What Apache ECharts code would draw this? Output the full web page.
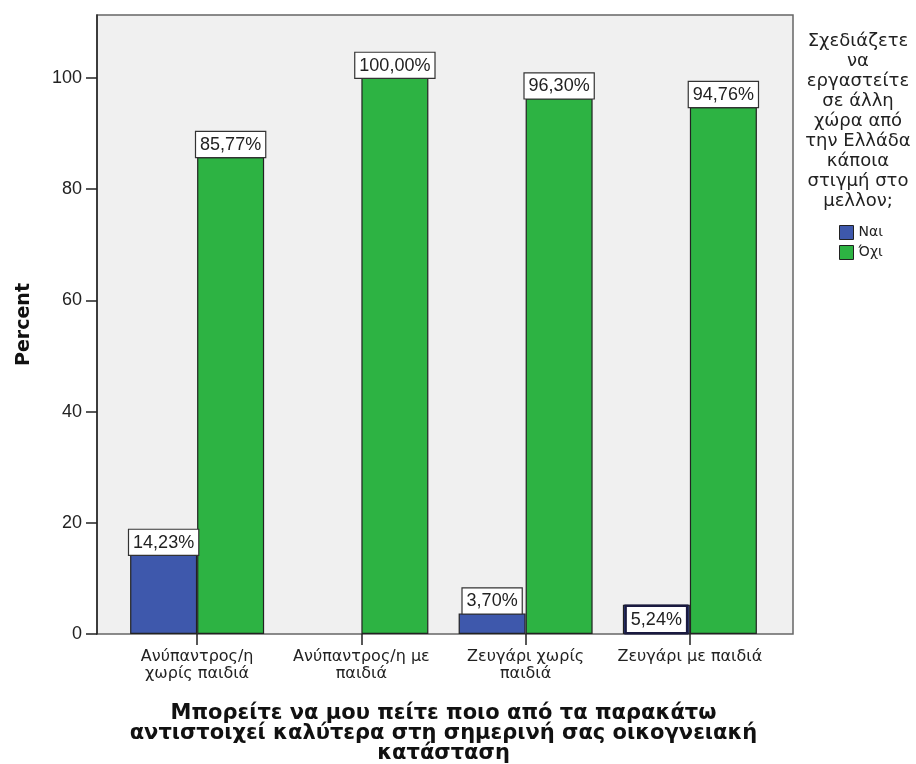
<!DOCTYPE html>
<html><head><meta charset="utf-8">
<script src="https://cdn.jsdelivr.net/npm/echarts@6/dist/echarts.min.js"></script>
<style>html,body{margin:0;padding:0;background:#fff}#c{width:916px;height:764px}</style>
</head><body><div id="c"></div>
<script>
var categories = ['Ανύπαντρος/η\nχωρίς παιδιά', 'Ανύπαντρος/η με\nπαιδιά', 'Ζευγάρι χωρίς\nπαιδιά', 'Ζευγάρι με παιδιά'];
var seriesNames = ['Ναι', 'Όχι'];
var yesValues = [14.23, null, 3.70, 5.24];
var noValues = [85.77, 100.00, 96.30, 94.76];
var yTicks = [0, 20, 40, 60, 80, 100];
var xTitle = 'Μπορείτε να μου πείτε ποιο από τα παρακάτω\nαντιστοιχεί καλύτερα στη σημερινή σας οικογνειακή\nκατάσταση';
var yTitle = 'Percent';
var legendTitle = 'Σχεδιάζετε\nνα\nεργαστείτε\nσε άλλη\nχώρα από\nτην Ελλάδα\nκάποια\nστιγμή στο\nμελλον;';

var FONT = '"Liberation Sans", Arial, sans-serif';
var FONT2 = '"DejaVu Sans", sans-serif';
var YMAX = 111.3;
var chart = echarts.init(document.getElementById('c'), null, {renderer: 'canvas'});

var labelBase = {
  show: true, position: 'top', distance: 0,
  formatter: function (p) { return p.value.toFixed(2).replace('.', ',') + '%'; },
  backgroundColor: '#fff', borderColor: '#333', borderWidth: 1.2,
  padding: [4, 4, 3, 4], fontSize: 18, color: '#222', fontFamily: FONT
};

function mkData(vals, insideIdx) {
  return vals.map(function (v, i) {
    if (v === null) return '-';
    if (i === insideIdx) return {value: v, label: {position: 'insideBottom', distance: 2, borderColor: '#1a1a40', borderWidth: 2.5}};
    return v;
  });
}

chart.setOption({
  animation: false,
  textStyle: {fontFamily: FONT},
  grid: [
    {left: 97, top: 15, right: 123, bottom: 130, outerBoundsMode: 'none', show: true, backgroundColor: '#f0f0f0', borderColor: '#666', borderWidth: 1.5},
    {left: 115, top: 15, right: 144, bottom: 130, outerBoundsMode: 'none'},
    {left: 97, top: 78, right: 123, bottom: 130, outerBoundsMode: 'none'}
  ],
  xAxis: [
    {gridIndex: 0, type: 'value', show: false, min: 0, max: 1},
    {gridIndex: 1, type: 'category', data: categories,
     axisLine: {show: false},
     axisTick: {show: true, alignWithLabel: true, length: 11, lineStyle: {color: '#222', width: 1.5}},
     axisLabel: {fontSize: 16, color: '#222', margin: 14, lineHeight: 17, fontFamily: FONT2, interval: 0},
     name: xTitle, nameLocation: 'middle', nameGap: 70,
     nameTextStyle: {fontSize: 21, fontWeight: 'bold', color: '#111', lineHeight: 20, fontFamily: FONT2}},
    {gridIndex: 2, type: 'value', show: false, min: 0, max: 1}
  ],
  yAxis: [
    {gridIndex: 0, type: 'value', min: 0, max: YMAX,
     axisLine: {show: true, lineStyle: {color: '#222', width: 1.5}},
     axisTick: {show: false}, axisLabel: {show: false}, splitLine: {show: false},
     name: yTitle, nameLocation: 'middle', nameGap: 63, nameRotate: 90,
     nameTextStyle: {fontSize: 19, fontWeight: 'bold', color: '#111', fontFamily: FONT2}},
    {gridIndex: 1, type: 'value', min: 0, max: YMAX, show: false},
    {gridIndex: 2, type: 'value', min: 0, max: 100, interval: 20,
     axisLine: {show: false},
     axisTick: {show: true, length: 11, lineStyle: {color: '#222', width: 1.5}},
     axisLabel: {fontSize: 18, color: '#222', margin: 15, fontFamily: FONT,
       formatter: function (v) { return yTicks.indexOf(v) >= 0 ? String(v) : ''; }},
     splitLine: {show: false}}
  ],
  legend: {
    orient: 'vertical', left: 834, top: 220, itemWidth: 14, itemHeight: 14, itemGap: 5,
    icon: 'rect',
    itemStyle: {borderColor: '#222', borderWidth: 1},
    textStyle: {fontSize: 14, color: '#222', fontFamily: FONT2, lineHeight: 15},
    data: seriesNames
  },
  graphic: [{
    type: 'text', x: 858, y: 31,
    style: {text: legendTitle, fontSize: 18, lineHeight: 20, fill: '#222', align: 'center', textAlign: 'center', fontFamily: FONT2}
  }],
  series: [
    {name: seriesNames[0], type: 'bar', xAxisIndex: 1, yAxisIndex: 1, barWidth: 67, barGap: '0%',
     itemStyle: {color: '#3e58ac', borderColor: '#222', borderWidth: 1.2},
     label: labelBase, data: mkData(yesValues, 3)},
    {name: seriesNames[1], type: 'bar', xAxisIndex: 1, yAxisIndex: 1, barWidth: 67, barGap: '0%',
     itemStyle: {color: '#2db343', borderColor: '#222', borderWidth: 1.2},
     label: labelBase, data: mkData(noValues, -1)}
  ]
});
</script></body></html>
